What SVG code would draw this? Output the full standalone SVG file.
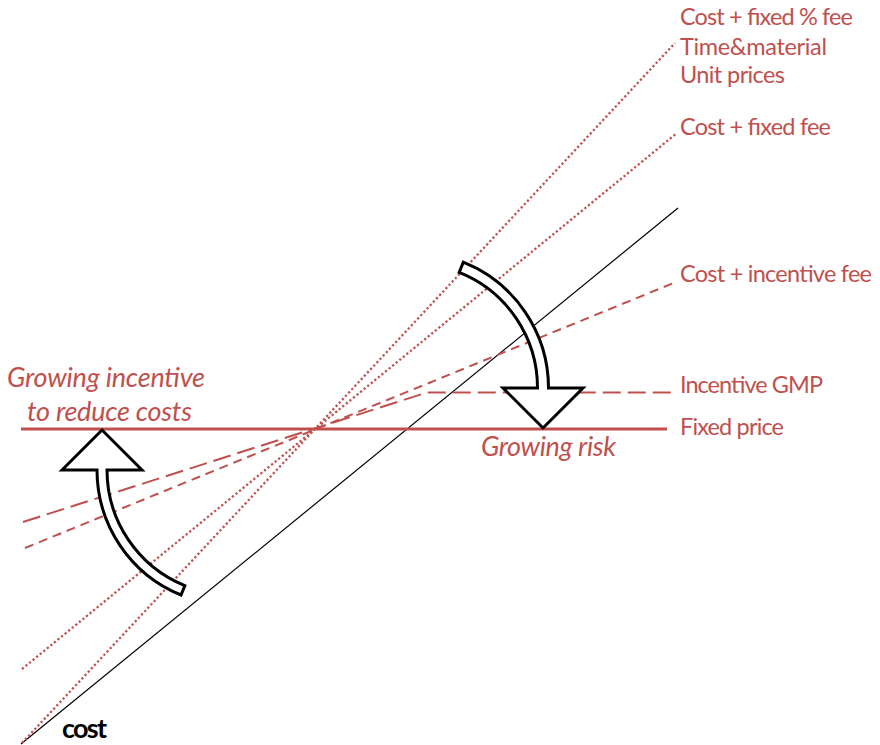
<svg xmlns="http://www.w3.org/2000/svg" width="880" height="745" viewBox="0 0 880 745">
  <style>
    .lbl { font-family: Lato, "Liberation Sans", sans-serif; font-size: 23.5px; fill: #c0504d; }
    .ital { font-family: Lato, "Liberation Sans", sans-serif; font-size: 27px; font-style: italic; fill: #c0504d; }
    .axis { font-family: Lato, "Liberation Sans", sans-serif; font-size: 27px; font-weight: bold; fill: #000; }
    .red { fill: none; stroke: #c0504d; stroke-width: 2; }
    .dot { stroke-width: 2.3; stroke-dasharray: 2.2 2.4; }
    .dash-long { stroke-dasharray: 18 7; }
    .dash-short { stroke-dasharray: 9 6; }
    .bend { fill: #fff; stroke: #000; stroke-width: 3; stroke-linejoin: miter; }
  </style>
  <rect width="880" height="745" fill="#fff"/>

  <g id="connectors">
    <!-- cost line -->
    <line x1="21" y1="744" x2="678" y2="208" stroke="#000" stroke-width="1.2"/>
    <!-- cost + fixed % fee / time&material / unit prices -->
    <line class="red dot" x1="22" y1="743" x2="675" y2="43"/>
    <!-- cost + fixed fee -->
    <line class="red dot" x1="22" y1="669" x2="677" y2="133"/>
    <!-- cost + incentive fee -->
    <line class="red dash-short" x1="25" y1="548" x2="676" y2="282"/>
    <!-- incentive GMP -->
    <polyline class="red dash-long" points="23,522 427,392.5 673,392.5"/>
    <!-- fixed price -->
    <line x1="21" y1="429" x2="667" y2="429" stroke="#c0504d" stroke-width="3"/>
  </g>

  <g id="arrow-risk">
    <path class="bend" d="M463.3 262.2 A135.5 135.5 0 0 1 548.5 388 L583 388 L543 428 L503 388 L537.5 388 A124.5 124.5 0 0 0 459.2 272.4 Z"/>
  </g>
  <g id="arrow-incentive">
    <path class="bend" d="M62 470 L102 430 L142 470 L107 470 A125 125 0 0 0 184.8 585.7 L181 595 A135 135 0 0 1 97 470 Z"/>
  </g>

  <g id="labels">
    <text class="lbl" x="680" y="25" textLength="173">Cost + fixed % fee</text>
    <text class="lbl" x="680" y="55" textLength="147">Time&amp;material</text>
    <text class="lbl" x="680" y="83" textLength="105">Unit prices</text>
    <text class="lbl" x="680" y="135" textLength="151">Cost + fixed fee</text>
    <text class="lbl" x="680" y="282" textLength="192">Cost + incentive fee</text>
    <text class="lbl" x="680" y="393" textLength="143">Incentive GMP</text>
    <text class="lbl" x="680" y="435" textLength="104">Fixed price</text>
  </g>
  <g id="notes">
    <text class="ital" x="7" y="387" textLength="198">Growing incentive</text>
    <text class="ital" x="27" y="421" textLength="165">to reduce costs</text>
    <text class="ital" x="481" y="456" textLength="135">Growing risk</text>
    <text class="axis" x="62" y="738" textLength="45">cost</text>
  </g>
</svg>
